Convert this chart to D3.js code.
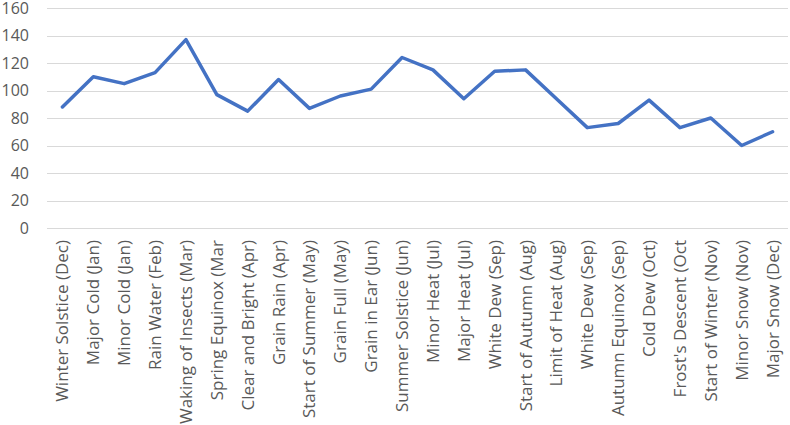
<!DOCTYPE html>
<html>
<head>
<meta charset="utf-8">
<script src="https://cdn.jsdelivr.net/npm/d3@7"></script>
<style>
  body { margin: 0; background: #fff; }
  svg { display: block; font-family: "Open Sans", sans-serif; }
</style>
</head>
<body>
<div id="chart"></div>
<script>
var terms = ["Winter Solstice (Dec)", "Major Cold (Jan)", "Minor Cold (Jan)", "Rain Water (Feb)",
  "Waking of Insects (Mar)", "Spring Equinox (Mar", "Clear and Bright (Apr)", "Grain Rain (Apr)",
  "Start of Summer (May)", "Grain Full (May)", "Grain in Ear (Jun)", "Summer Solstice (Jun)",
  "Minor Heat (Jul)", "Major Heat (Jul)", "White Dew (Sep)", "Start of Autumn (Aug)",
  "Limit of Heat (Aug)", "White Dew (Sep)", "Autumn Equinox (Sep)", "Cold Dew (Oct)",
  "Frost's Descent (Oct", "Start of Winter (Nov)", "Minor Snow (Nov)", "Major Snow (Dec)"];

var values = [88, 110, 105, 113, 137, 97, 85, 108, 87, 96, 101, 124,
  115, 94, 114, 115, 94, 73, 76, 93, 73, 80, 60, 70];

var yTicks = [0, 20, 40, 60, 80, 100, 120, 140, 160];

var width = 790, height = 425;
var plotLeft = 47, plotRight = 788, plotTop = 8, plotBottom = 228;

var svg = d3.select("#chart").append("svg")
  .attr("width", width)
  .attr("height", height);

// index as domain so the repeated "White Dew (Sep)" keeps its own slot
var x = d3.scaleBand()
  .domain(d3.range(terms.length))
  .range([plotLeft, plotRight]);

var y = d3.scaleLinear()
  .domain([0, 160])
  .range([plotBottom, plotTop]);

// gridlines
svg.append("g")
  .selectAll("line")
  .data(yTicks)
  .join("line")
    .attr("x1", plotLeft)
    .attr("x2", plotRight)
    .attr("y1", function(d) { return Math.round(y(d)) + 0.5; })
    .attr("y2", function(d) { return Math.round(y(d)) + 0.5; })
    .attr("stroke", "#d9d9d9")
    .attr("stroke-width", 1.2);

// y axis labels
var yAxis = svg.append("g")
  .attr("transform", "translate(" + (plotLeft - 18) + ",0)")
  .call(d3.axisLeft(y).tickValues(yTicks).tickSize(0).tickPadding(0));
yAxis.select(".domain").remove();
yAxis.selectAll("text")
  .attr("fill", "#595959")
  .style("font-size", "16px")
  .style("font-family", "'Open Sans', sans-serif");

// x axis labels, rotated
var xAxis = svg.append("g")
  .attr("transform", "translate(0," + plotBottom + ")")
  .call(d3.axisBottom(x).tickFormat(function(i) { return terms[i]; }).tickSize(0));
xAxis.select(".domain").remove();
xAxis.selectAll("text")
  .attr("fill", "#595959")
  .style("font-size", "17px")
  .style("font-family", "'Open Sans', sans-serif")
  .attr("text-anchor", "end")
  .attr("dy", "0.35em")
  .attr("transform", "translate(0,12) rotate(-90)")
  .attr("x", 0)
  .attr("y", 0);

// the line
var line = d3.line()
  .x(function(d, i) { return x(i) + x.bandwidth() / 2; })
  .y(function(d) { return y(d); });

svg.append("path")
  .datum(values)
  .attr("d", line)
  .attr("fill", "none")
  .attr("stroke", "#4472c4")
  .attr("stroke-width", 3.5)
  .attr("stroke-linejoin", "round")
  .attr("stroke-linecap", "round");
</script>
</body>
</html>
